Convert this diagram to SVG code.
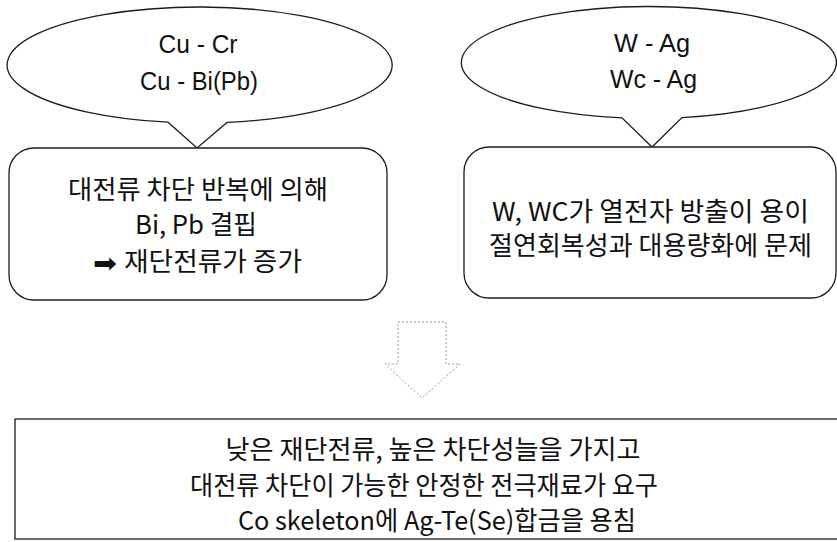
<svg xmlns="http://www.w3.org/2000/svg" width="837" height="542" viewBox="0 0 837 542">
<style>
.shape{fill:#fff;stroke:#1c1c1c;stroke-width:1.3}
.lat{font-family:"Liberation Sans",Arial,sans-serif;font-size:26px;fill:#111;text-anchor:middle}
.kr{font-family:"Noto Sans CJK KR","Noto Sans",sans-serif;font-size:26px;fill:#111;text-anchor:middle}
.st{text-anchor:start}
.sym{font-family:"DejaVu Sans",sans-serif;font-size:26px;fill:#111}
.hollow{fill:#fff;stroke:#9a9a9a;stroke-width:1;stroke-dasharray:2 2}
</style>
<rect width="837" height="542" fill="#fff"/>
<g id="bubble-left">
<path class="shape" d="M227,122.4 A192.5,58 0 1 0 168,122.2 L197,148 Z"/>
<text class="lat" x="198" y="53" textLength="79" lengthAdjust="spacingAndGlyphs">Cu - Cr</text>
<text class="lat" x="199" y="90" textLength="118" lengthAdjust="spacingAndGlyphs">Cu - Bi(Pb)</text>
</g>
<g id="bubble-right">
<path class="shape" d="M682,117.6 A187.5,56 0 1 0 622,117.9 L652,147 Z"/>
<text class="lat" x="652" y="52" textLength="76" lengthAdjust="spacingAndGlyphs">W - Ag</text>
<text class="lat" x="653.5" y="88" textLength="87" lengthAdjust="spacingAndGlyphs">Wc - Ag</text>
</g>
<g id="box-left">
<rect class="shape" x="9" y="148" width="378" height="152" rx="25"/>
<text class="kr" x="198" y="199" textLength="260" lengthAdjust="spacingAndGlyphs">대전류 차단 반복에 의해</text>
<text class="kr" x="196" y="234" textLength="122" lengthAdjust="spacingAndGlyphs">Bi, Pb 결핍</text>
<text class="sym" x="93" y="272" textLength="24" lengthAdjust="spacingAndGlyphs">➡</text>
<text class="kr st" x="124" y="271" textLength="178" lengthAdjust="spacingAndGlyphs">재단전류가 증가</text>
</g>
<g id="box-right">
<rect class="shape" x="464" y="147" width="372" height="151" rx="25"/>
<text class="kr" x="650.5" y="221" textLength="317" lengthAdjust="spacingAndGlyphs">W, WC가 열전자 방출이 용이</text>
<text class="kr" x="650.5" y="255" textLength="323" lengthAdjust="spacingAndGlyphs">절연회복성과 대용량화에 문제</text>
</g>
<g id="connectors">
<path id="down-arrow" class="hollow" d="M398,322 L446,322 L446,364 L460,364 L422,398 L385,364 L398,364 Z"/>
</g>
<g id="box-bottom">
<rect class="shape" x="15" y="419" width="830" height="120" stroke-width="1.5"/>
<text class="kr" x="433" y="459" textLength="415" lengthAdjust="spacingAndGlyphs">낮은 재단전류, 높은 차단성늘을 가지고</text>
<text class="kr" x="424" y="495" textLength="468" lengthAdjust="spacingAndGlyphs">대전류 차단이 가능한 안정한 전극재료가 요구</text>
<text class="kr" x="437" y="530" textLength="398" lengthAdjust="spacingAndGlyphs">Co skeleton에 Ag-Te(Se)합금을 용침</text>
</g>
</svg>
